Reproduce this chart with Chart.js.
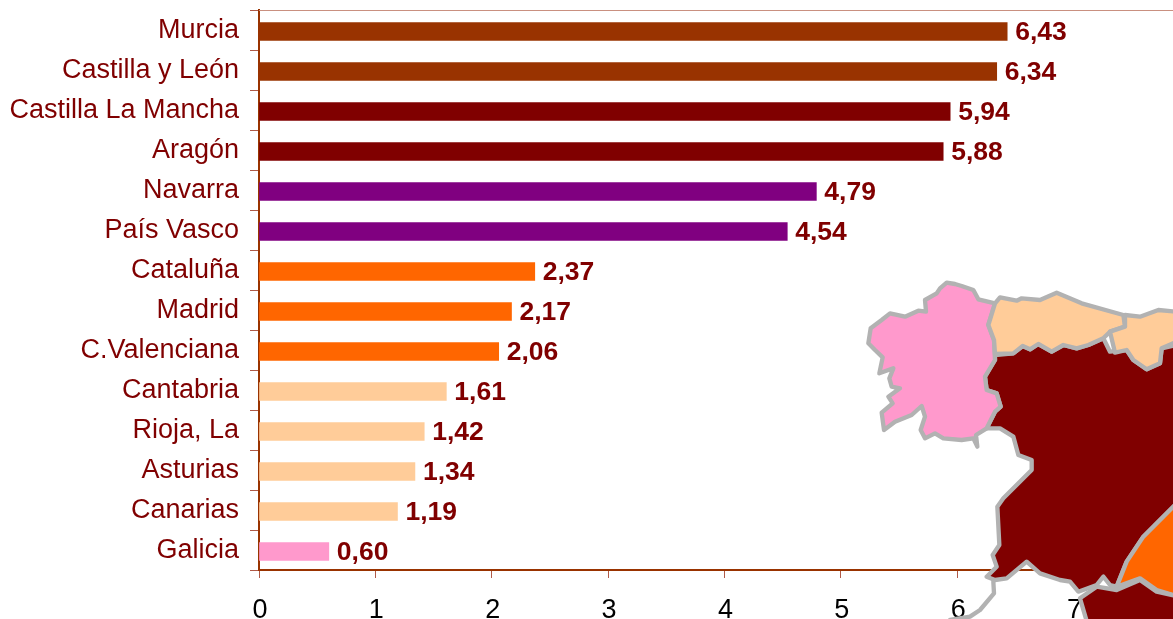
<!DOCTYPE html>
<html>
<head>
<meta charset="utf-8">
<script src="https://cdn.jsdelivr.net/npm/chart.js@4"></script>
<style>
html, body { margin: 0; padding: 0; background: #fff; }
#wrap { width: 1173px; height: 619px; }
</style>
</head>
<body>
<div id="wrap"><canvas id="chart"></canvas></div>
<script>
const categories = ['Murcia', 'Castilla y León', 'Castilla La Mancha', 'Aragón', 'Navarra', 'País Vasco', 'Cataluña', 'Madrid', 'C.Valenciana', 'Cantabria', 'Rioja, La', 'Asturias', 'Canarias', 'Galicia'];
const values = [6.43, 6.34, 5.94, 5.88, 4.79, 4.54, 2.37, 2.17, 2.06, 1.61, 1.42, 1.34, 1.19, 0.60];
const barColors = ['#993300', '#993300', '#800000', '#800000', '#800080', '#800080', '#FF6600', '#FF6600', '#FF6600', '#FFCC99', '#FFCC99', '#FFCC99', '#FFCC99', '#FF99CC'];
const tickLabels = [0, 1, 2, 3, 4, 5, 6, 7];

// Map decoration in the corner, outlines
const mapShapes = [
    { fill: '#800000', points: [[465,255],[520,250],[548,228],[570,238],[595,222],[635,245],[670,225],[710,235],[745,225],[790,205],[810,245],[860,240],[880,270],[920,298],[960,280],[965,235],[1010,225],[1010,700],[910,800],[860,875],[830,950],[810,945],[790,920],[770,945],[715,965],[690,935],[660,930],[600,910],[560,875],[500,925],[465,930],[440,920],[470,890],[458,855],[478,825],[472,710],[490,685],[575,600],[575,570],[535,555],[520,500],[480,475],[440,475],[465,425],[482,410],[470,370],[440,360],[435,320],[465,270]] },
    { fill: '#FF99CC', points: [[465,100],[415,88],[400,60],[365,48],[345,42],[320,38],[300,55],[290,70],[255,90],[258,125],[235,122],[195,140],[150,130],[125,150],[92,175],[85,220],[105,240],[128,262],[118,310],[160,295],[148,325],[155,350],[180,355],[145,380],[158,400],[125,428],[132,480],[165,455],[215,435],[245,408],[255,440],[242,480],[255,505],[285,490],[310,505],[365,510],[400,505],[412,530],[408,495],[440,475],[465,425],[482,410],[470,370],[440,360],[435,320],[465,270],[462,210],[445,165]] },
    { fill: '#FFCC99', points: [[465,100],[480,82],[530,92],[545,85],[600,90],[650,68],[725,100],[850,135],[855,170],[810,185],[790,205],[745,225],[710,235],[670,225],[635,245],[595,222],[570,238],[548,228],[520,250],[465,252],[462,210],[445,165]] },
    { fill: '#FFCC99', points: [[855,135],[900,140],[955,120],[1010,125],[1010,215],[965,235],[960,280],[920,298],[880,270],[860,240],[825,248],[810,185],[855,170]] },
    { fill: '#FF6600', points: [[1010,700],[910,800],[860,875],[830,950],[900,925],[950,960],[1010,978]] },
    { fill: '#800000', points: [[720,985],[770,950],[830,960],[900,930],[950,965],[1010,978],[1010,1060],[742,1060]] }
];
const mapLines = [
    [[460,935],[462,970],[420,1020],[390,1040],[330,1050]]
];

// bars sit a little below the middle of their band in the reference
const barNudge = 1.5;

const shiftBars = {
    id: 'shiftBars',
    beforeDatasetDraw(chart) {
        chart.ctx.save();
        chart.ctx.translate(0, barNudge);
    },
    afterDatasetDraw(chart) {
        chart.ctx.restore();
    }
};

const barLabels = {
    id: 'barLabels',
    afterDatasetsDraw(chart) {
        const ctx = chart.ctx;
        ctx.save();
        ctx.font = 'bold 26.5px "Liberation Sans"';
        ctx.fillStyle = '#800000';
        ctx.textBaseline = 'middle';
        chart.getDatasetMeta(0).data.forEach((bar, i) => {
            ctx.fillText(values[i].toFixed(2).replace('.', ','), bar.x + 8, bar.y + 3);
        });
        ctx.restore();
    }
};

const topLine = {
    id: 'topLine',
    beforeDatasetsDraw(chart) {
        const ctx = chart.ctx;
        ctx.save();
        ctx.strokeStyle = '#C99080';
        ctx.lineWidth = 1;
        ctx.beginPath();
        ctx.moveTo(chart.chartArea.left, chart.chartArea.top + 0.5);
        ctx.lineTo(chart.chartArea.right, chart.chartArea.top + 0.5);
        ctx.stroke();
        ctx.restore();
    }
};

const mapDrawing = {
    id: 'mapDrawing',
    afterDatasetsDraw(chart) {
        const ctx = chart.ctx;
        ctx.save();
        ctx.translate(840, 270);
        ctx.scale(1 / 3, 1 / 3);
        ctx.strokeStyle = '#B2B2B2';
        ctx.lineWidth = 13;
        ctx.lineJoin = 'round';
        ctx.lineCap = 'round';
        mapShapes.forEach(shape => {
            ctx.beginPath();
            shape.points.forEach((p, i) => i ? ctx.lineTo(p[0], p[1]) : ctx.moveTo(p[0], p[1]));
            ctx.closePath();
            ctx.fillStyle = shape.fill;
            ctx.fill();
            ctx.stroke();
        });
        mapLines.forEach(line => {
            ctx.beginPath();
            line.forEach((p, i) => i ? ctx.lineTo(p[0], p[1]) : ctx.moveTo(p[0], p[1]));
            ctx.stroke();
        });
        ctx.restore();
    }
};

new Chart(document.getElementById('chart'), {
    type: 'bar',
    data: {
        labels: categories,
        datasets: [{
            data: values,
            backgroundColor: barColors,
            barThickness: 18
        }]
    },
    options: {
        indexAxis: 'y',
        responsive: true,
        maintainAspectRatio: false,
        animation: false,
        layout: { padding: { top: 10, right: 0, left: 0, bottom: 0 } },
        plugins: {
            legend: { display: false },
            tooltip: { enabled: false }
        },
        scales: {
            y: {
                afterFit: scale => { scale.width = 259; scale.paddingTop = 0; scale.paddingBottom = 0; },
                border: { color: '#993300', width: 2 },
                grid: { drawOnChartArea: false, color: '#B05A48', tickLength: 9 },
                ticks: { color: '#800000', padding: 11, labelOffset: 1, font: { family: 'Liberation Sans', size: 27 } }
            },
            x: {
                min: 0,
                max: 7.855,
                afterBuildTicks: scale => { scale.ticks = tickLabels.map(v => ({ value: v })); },
                afterFit: scale => { scale.height = 49; scale.paddingLeft = 0; scale.paddingRight = 0; },
                border: { color: '#993300', width: 2 },
                grid: { drawOnChartArea: false, color: '#B05A48', tickLength: 8 },
                ticks: { color: '#000', padding: 16, maxRotation: 0, autoSkip: false, labelOffset: 1, font: { family: 'Liberation Sans', size: 27 } }
            }
        }
    },
    plugins: [shiftBars, topLine, barLabels, mapDrawing]
});
</script>
</body>
</html>
